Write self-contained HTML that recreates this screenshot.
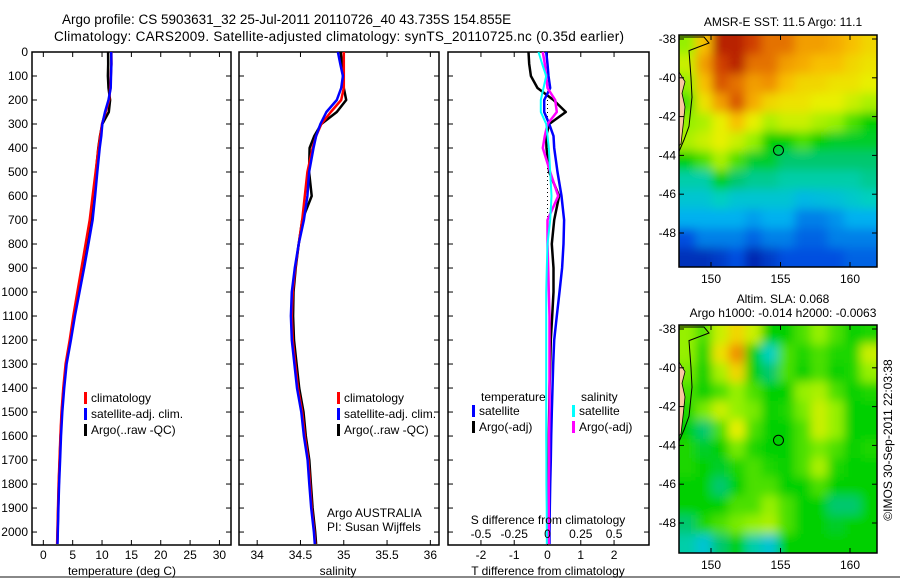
<!DOCTYPE html>
<html><head><meta charset="utf-8">
<style>
html,body{margin:0;padding:0;background:#fff;}
svg{display:block;font-family:"Liberation Sans",sans-serif;}
</style></head>
<body>
<svg id="fig" width="900" height="580" viewBox="0 0 900 580" xmlns="http://www.w3.org/2000/svg">
<defs>
<filter id="soft" x="-10%" y="-10%" width="120%" height="120%"><feGaussianBlur stdDeviation="5"/></filter>
<clipPath id="clip1"><rect x="679" y="35" width="198" height="232"/></clipPath>
<clipPath id="clip2"><rect x="679" y="325" width="198" height="228"/></clipPath>
</defs>
<rect x="0" y="0" width="900" height="580" fill="#fff"/>
<line x1="0" y1="577" x2="900" y2="577" stroke="#888" stroke-width="2"/>
<text x="62" y="24" font-size="13.5">Argo profile: CS 5903631_32 25-Jul-2011 20110726_40 43.735S 154.855E</text>
<text x="54" y="41" font-size="13.5" textLength="570">Climatology: CARS2009. Satellite-adjusted climatology: synTS_20110725.nc (0.35d earlier)</text>
<g id="g1"></g>
<g id="g2"></g>
<g id="g3"></g>
<g id="m1"></g>
<g id="m2"></g>
<text transform="translate(892,440) rotate(-90)" font-size="12" text-anchor="middle">©IMOS 30-Sep-2011 22:03:38</text>
</svg>
<script>
const depths = [0,50,100,150,200,250,300,350,400,500,600,700,800,900,1000,1100,1200,1300,1400,1500,1600,1700,1800,1900,2000,2050];
const tempClim = [11.6,11.6,11.5,11.4,11.2,10.6,10.0,9.7,9.4,8.9,8.4,7.9,7.2,6.5,5.8,5.1,4.5,3.8,3.4,3.1,2.9,2.75,2.6,2.5,2.4,2.35];
const tempSatDiff = [-0.04,0,0.03,0.08,-0.1,-0.1,0.05,0.18,0.2,0.3,0.42,0.5,0.48,0.44,0.36,0.28,0.2,0.17,0.15,0.13,0.11,0.1,0.08,0.07,0.06,0.06];
const tempArgoDiff = [-0.57,-0.55,-0.5,-0.3,0.18,0.55,0.05,-0.04,-0.03,0.05,0.35,0.2,0.13,0.18,0.18,0.14,0.1,0.08,0.06,0.05,0.04,0.04,0.03,0.03,0.03,0.03];
const salClim = [35.0,35.0,35.0,35.0,34.97,34.85,34.74,34.68,34.64,34.58,34.55,34.52,34.48,34.44,34.41,34.40,34.41,34.44,34.47,34.52,34.55,34.59,34.61,34.63,34.66,34.67];
const salSatDiff = [-0.068,-0.04,-0.01,-0.03,-0.05,-0.05,-0.01,0,0.01,0.02,0.03,0.02,0,-0.005,-0.01,-0.01,-0.01,-0.01,-0.01,-0.01,-0.01,-0.008,-0.008,-0.006,-0.005,-0.005];
const salArgoDiff = [-0.035,-0.02,-0.01,0,0.058,0.07,0,-0.02,-0.035,0.02,0.08,0,0,0.005,0.01,0.015,0.015,0.015,0.015,0.015,0.012,0.012,0.01,0.01,0.01,0.01];
const tempTicks = [0,5,10,15,20,25,30];
const salTicks = [34,34.5,35,35.5,36];
const salTickLabels = ["34","34.5","35","35.5","36"];
const tDiffTicks = [-2,-1,0,1,2];
const sDiffTicks = [-0.5,-0.25,0,0.25,0.5];
const depthTicks = [0,100,200,300,400,500,600,700,800,900,1000,1100,1200,1300,1400,1500,1600,1700,1800,1900,2000];
const sstGrid = [
[0.6,0.75,0.95,0.95,0.9,0.85,0.85,0.8,0.8,0.78,0.75,0.72],
[0.65,0.8,0.9,0.95,0.85,0.85,0.8,0.78,0.75,0.75,0.72,0.7],
[0.6,0.75,0.88,0.85,0.8,0.82,0.75,0.72,0.72,0.7,0.7,0.68],
[0.55,0.7,0.8,0.88,0.78,0.72,0.7,0.7,0.68,0.68,0.65,0.62],
[0.6,0.62,0.68,0.75,0.68,0.62,0.65,0.65,0.62,0.6,0.55,0.5],
[0.62,0.65,0.68,0.65,0.6,0.5,0.5,0.55,0.5,0.48,0.48,0.48],
[0.5,0.55,0.62,0.55,0.48,0.48,0.45,0.45,0.45,0.45,0.45,0.45],
[0.4,0.4,0.5,0.45,0.42,0.42,0.4,0.4,0.4,0.4,0.4,0.42],
[0.35,0.35,0.38,0.35,0.35,0.35,0.35,0.32,0.33,0.34,0.36,0.38],
[0.3,0.3,0.3,0.3,0.28,0.3,0.3,0.25,0.25,0.27,0.3,0.3],
[0.2,0.25,0.25,0.25,0.22,0.25,0.25,0.22,0.22,0.25,0.25,0.25],
[0.12,0.12,0.15,0.2,0.1,0.15,0.2,0.2,0.2,0.2,0.22,0.22]];
const slaGrid = [
[0.6,0.55,0.65,0.72,0.65,0.5,0.5,0.55,0.6,0.55,0.5,0.52],
[0.6,0.52,0.7,0.82,0.5,0.38,0.55,0.52,0.55,0.52,0.52,0.65],
[0.58,0.5,0.62,0.72,0.5,0.45,0.55,0.5,0.55,0.5,0.52,0.6],
[0.55,0.5,0.55,0.6,0.55,0.5,0.5,0.6,0.62,0.55,0.5,0.52],
[0.52,0.58,0.65,0.6,0.58,0.5,0.52,0.58,0.65,0.6,0.5,0.5],
[0.5,0.45,0.55,0.68,0.55,0.5,0.5,0.55,0.65,0.6,0.5,0.5],
[0.52,0.48,0.5,0.58,0.52,0.5,0.5,0.55,0.58,0.55,0.5,0.52],
[0.52,0.5,0.48,0.52,0.55,0.52,0.5,0.55,0.62,0.52,0.5,0.5],
[0.5,0.5,0.45,0.5,0.55,0.55,0.5,0.5,0.55,0.5,0.5,0.5],
[0.5,0.5,0.5,0.55,0.55,0.6,0.55,0.5,0.5,0.45,0.45,0.5],
[0.45,0.52,0.55,0.58,0.6,0.62,0.55,0.5,0.5,0.48,0.5,0.5],
[0.4,0.35,0.45,0.5,0.4,0.35,0.5,0.5,0.5,0.5,0.5,0.5]];
const lonTicks = [150,155,160];
const latTicks = [-38,-40,-42,-44,-46,-48];
const argoLon = 154.855, argoLat = -43.735;

const NS="http://www.w3.org/2000/svg";
function el(parent,tag,attrs,txt){const e=document.createElementNS(NS,tag);for(const k in attrs)e.setAttribute(k,attrs[k]);if(txt!==undefined)e.textContent=txt;parent.appendChild(e);return e;}
const TOP=52, BOT=545, DMAX=2054;
const yD = d => TOP + d/DMAX*(BOT-TOP);
function lin(d0,d1,r0,r1){return v=>r0+(v-d0)/(d1-d0)*(r1-r0);}
const P1={l:32,r:231}, P2={l:239,r:439}, P3={l:448,r:649};
const xT = lin(-1.93,31.97,P1.l,P1.r);
const xS = lin(33.79,36.1,P2.l,P2.r);
const xTd = lin(-2.99,3.05,P3.l,P3.r);
const xSd = v => xTd(v*4);

function frame(g,P,name){
  const r=el(g,'rect',{x:P.l,y:TOP,width:P.r-P.l,height:BOT-TOP,fill:'none',stroke:'#000','stroke-width':1.5});
  
  
  depthTicks.forEach(d=>{
    const y=yD(d);
    el(g,'line',{x1:P.l,y1:y,x2:P.l+5,y2:y,stroke:'#000'});
    el(g,'line',{x1:P.r,y1:y,x2:P.r-5,y2:y,stroke:'#000'});
  });
}
function xticks(g,vals,fx,labels,ly){
  vals.forEach((v,i)=>{
    const x=fx(v);
    el(g,'line',{x1:x,y1:TOP,x2:x,y2:TOP+5,stroke:'#000'});
    el(g,'line',{x1:x,y1:BOT,x2:x,y2:BOT-5,stroke:'#000'});
    if(labels){const t=el(g,'text',{x:x,y:ly,'font-size':12,'text-anchor':'middle'},labels[i]);
      
      }
  });
}
function line(g,xs,fx,color,w,name){
  const pts=depths.map((d,i)=>fx(xs[i]).toFixed(1)+','+yD(d).toFixed(1)).join(' ');
  const p=el(g,'polyline',{points:pts,fill:'none',stroke:color,'stroke-width':w,'stroke-linejoin':'round'});
  
  
}
function legend(g,x,y,items){
  items.forEach((it,i)=>{
    el(g,'rect',{x:x,y:y+i*16-10,width:3,height:12,fill:it[0]});
    const t=el(g,'text',{x:x+7,y:y+i*16,'font-size':12},it[1]);
    
    
  });
}
const tempSat = tempClim.map((v,i)=>v+tempSatDiff[i]);
const tempArgo = tempClim.map((v,i)=>v+tempArgoDiff[i]);
const salSat = salClim.map((v,i)=>v+salSatDiff[i]);
const salArgo = salClim.map((v,i)=>v+salArgoDiff[i]);

// Panel 1
const g1=document.getElementById('g1');
frame(g1,P1,'temperature');
xticks(g1,tempTicks,xT,tempTicks.map(String),559);
depthTicks.forEach(d=>{const t=el(g1,'text',{x:28,y:yD(d)+4,'font-size':12,'text-anchor':'end'},String(d));
  
  });
line(g1,tempArgo,xT,'#000',2.5,'temperature-argo-line');
line(g1,tempClim,xT,'#f00',2.5,'temperature-climatology-line');
line(g1,tempSat,xT,'#00f',2.5,'temperature-satellite-line');
legend(g1,84,402,[['#f00','climatology'],['#00f','satellite-adj. clim.'],['#000','Argo(..raw -QC)']]);
el(g1,'text',{x:122,y:575,'font-size':12,'text-anchor':'middle',},'temperature (deg C)');

// Panel 2
const g2=document.getElementById('g2');
frame(g2,P2,'salinity');
xticks(g2,salTicks,xS,salTickLabels,559);
line(g2,salArgo,xS,'#000',2.5,'salinity-argo-line');
line(g2,salClim,xS,'#f00',2.5,'salinity-climatology-line');
line(g2,salSat,xS,'#00f',2.5,'salinity-satellite-line');
legend(g2,337,402,[['#f00','climatology'],['#00f','satellite-adj. clim.'],['#000','Argo(..raw -QC)']]);
el(g2,'text',{x:327,y:517,'font-size':12,},'Argo AUSTRALIA');
el(g2,'text',{x:327,y:531,'font-size':12,},'PI: Susan Wijffels');
el(g2,'text',{x:338,y:575,'font-size':12,'text-anchor':'middle',},'salinity');

// Panel 3
const g3=document.getElementById('g3');
frame(g3,P3,'difference');
xticks(g3,tDiffTicks,xTd,tDiffTicks.map(String),559);
el(g3,'line',{x1:xTd(0),y1:yD(100),x2:xTd(0),y2:yD(700),stroke:'#000','stroke-dasharray':'1,3',});
line(g3,tempArgoDiff,xTd,'#000',2.5,'t-diff-argo-line');
line(g3,tempSatDiff,xTd,'#00f',2.5,'t-diff-satellite-line');
line(g3,salArgoDiff,xSd,'#f0f',2.5,'s-diff-argo-line');
line(g3,salSatDiff,xSd,'#0ff',2,'s-diff-satellite-line');
sDiffTicks.forEach(v=>{const t=el(g3,'text',{x:xSd(v),y:538,'font-size':12,'text-anchor':'middle'},String(v));
  
  });
el(g3,'text',{x:548,y:524,'font-size':12,'text-anchor':'middle',},'S difference from climatology');
el(g3,'text',{x:548,y:575,'font-size':12,'text-anchor':'middle',},'T difference from climatology');
el(g3,'text',{x:481,y:401,'font-size':12,},'temperature');
el(g3,'text',{x:581,y:401,'font-size':12,},'salinity');
legend(g3,472,415,[['#00f','satellite'],['#000','Argo(-adj)']]);
legend(g3,572,415,[['#0ff','satellite'],['#f0f','Argo(-adj)']]);

// Maps
const cstops=[[0,[0,0,128]],[0.2,[0,80,224]],[0.3,[0,176,240]],[0.38,[0,208,192]],[0.45,[0,200,110]],[0.5,[0,208,0]],[0.6,[150,240,0]],[0.68,[232,240,0]],[0.75,[248,192,0]],[0.82,[240,144,0]],[0.9,[208,64,0]],[1,[160,0,0]]];
function cmap(v){for(let i=1;i<cstops.length;i++){if(v<=cstops[i][0]){const a=cstops[i-1],b=cstops[i];const f=(v-a[0])/(b[0]-a[0]);return 'rgb('+a[1].map((c,k)=>Math.round(c+f*(b[1][k]-c))).join(',')+')';}}return 'rgb(160,0,0)';}
function drawMap(id,clipId,grid,L,R,T,B,lat38y,lat48y,titles){
  const g=document.getElementById(id);
  const xL=lin(150,160,711,850), yL=lin(-38,-48,lat38y,lat48y);
  const nr=grid.length, nc=grid[0].length, cw=(R-L)/nc, ch=(B-T)/nr;
  const cg=el(g,'g',{'clip-path':'url(#'+clipId+')'});
  const bg=el(cg,'g',{filter:'url(#soft)'});
  const pad=14;
  grid.forEach((row,i)=>row.forEach((v,j)=>{
    const x0=L+j*cw-(j===0?pad:0), y0=T+i*ch-(i===0?pad:0);
    const w=cw+0.6+(j===0?pad:0)+(j===nc-1?pad:0), h=ch+0.6+(i===0?pad:0)+(i===nr-1?pad:0);
    const c=el(bg,'rect',{x:x0.toFixed(2),y:y0.toFixed(2),width:w.toFixed(2),height:h.toFixed(2),fill:cmap(v)});
    
    
  }));
  const land=el(g,'polygon',{points:`${L},${yL(-39.7)} ${L+6},${yL(-40.2)} ${L+3},${yL(-40.8)} ${L+6},${yL(-41.5)} ${L+4},${yL(-42.5)} ${L+2},${yL(-43.4)} ${L},${yL(-43.5)}`,fill:'#f8c8a0',stroke:'#000','stroke-width':0.8});
  
  
  el(g,'polyline',{points:`${L},${T+2} ${L+25},${T+2} ${L+30},${T+8} ${L+10},${yL(-38.6)} ${L+12},${yL(-40)} ${L+13},${yL(-41)} ${L+10},${yL(-42.5)} ${L+5},${yL(-43.2)} ${L},${yL(-43.8)}`,fill:'none',stroke:'#000','stroke-width':1,});
  el(g,'rect',{x:L,y:T,width:R-L,height:B-T,fill:'none',stroke:'#000','stroke-width':1.5,});
  lonTicks.forEach(v=>{const x=xL(v);
    el(g,'line',{x1:x,y1:T,x2:x,y2:T+5,stroke:'#000'});el(g,'line',{x1:x,y1:B,x2:x,y2:B-5,stroke:'#000'});
    const t=el(g,'text',{x:x,y:B+16,'font-size':12,'text-anchor':'middle'},String(v));
    
    });
  latTicks.forEach(v=>{const y=yL(v);
    el(g,'line',{x1:L,y1:y,x2:L+5,y2:y,stroke:'#000'});el(g,'line',{x1:R,y1:y,x2:R-5,y2:y,stroke:'#000'});
    const t=el(g,'text',{x:L-3,y:y+4,'font-size':12,'text-anchor':'end'},String(v));
    
    });
  el(g,'circle',{cx:xL(argoLon),cy:yL(argoLat),r:5,fill:'none',stroke:'#000','stroke-width':1,});
  titles.forEach(t=>{const e=el(g,'text',{x:783,y:t[1],'font-size':12,'text-anchor':'middle'},t[0]);
    
    });
}
drawMap('m1','clip1',sstGrid,679,877,35,267,39,233,[['AMSR-E SST: 11.5  Argo: 11.1',26]]);
drawMap('m2','clip2',slaGrid,679,877,325,553,329,523,[['Altim. SLA: 0.068',303],['Argo h1000: -0.014 h2000: -0.0063',317]]);
</script>
</body></html>
